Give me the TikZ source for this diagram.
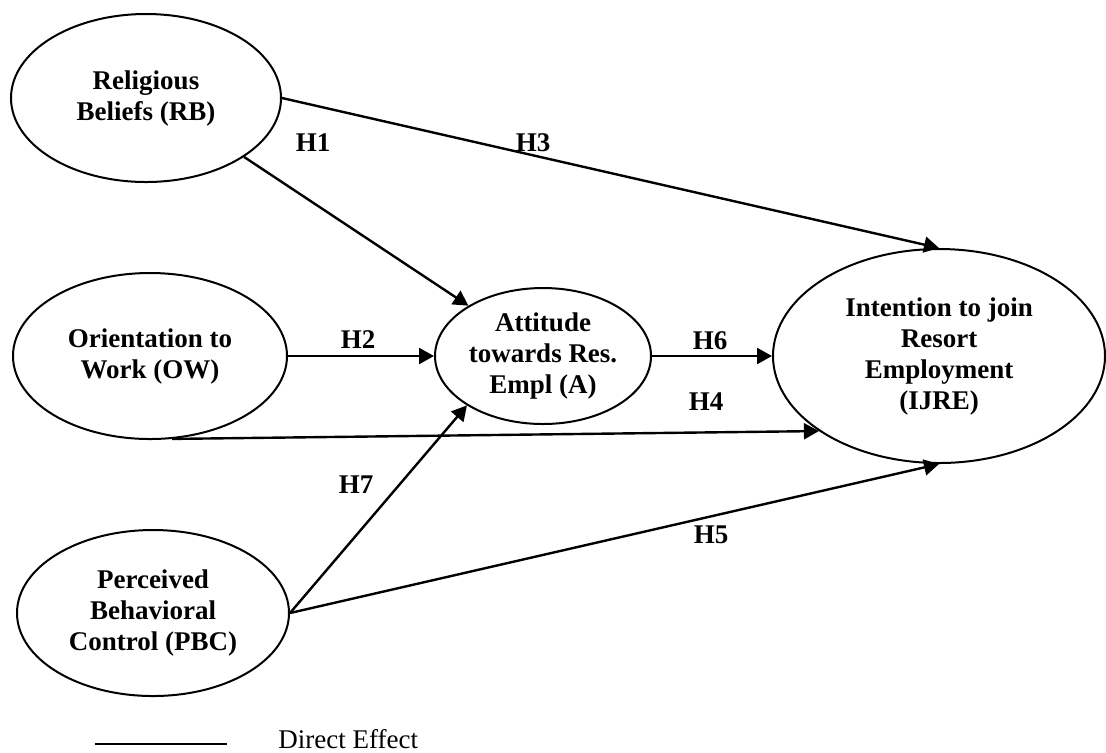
\documentclass[tikz,border=0pt]{standalone}
\usepackage{fontspec}
\setmainfont{Liberation Serif}
\usetikzlibrary{shapes.geometric,arrows.meta}
\begin{document}
\begin{tikzpicture}[x=0.5pt,y=-0.5pt,
  construct/.style={draw,ellipse,line width=1pt,inner sep=0pt,align=center,
    font=\fontsize{13.5}{15.5}\selectfont\bfseries},
  path/.style={line width=1.2pt,-{Triangle[length=7.5pt,width=8pt]}},
  hyp/.style={font=\fontsize{13.5}{15.5}\selectfont\bfseries}]
\useasboundingbox (0,0) rectangle (1106,752);

% constructs
\node[construct,minimum width=135pt,minimum height=84pt] (rb) at (146,98) {Religious\\Beliefs (RB)};
\node[construct,minimum width=137pt,minimum height=83pt] (ow) at (150,356) {Orientation to\\Work (OW)};
\node[construct,minimum width=136pt,minimum height=83pt] (pbc) at (153,613) {Perceived\\Behavioral\\Control (PBC)};
\node[construct,minimum width=108pt,minimum height=68pt] (att) at (543,356) {Attitude\\towards Res.\\Empl (A)};
\node[construct,minimum width=166pt,minimum height=107pt] (ijre) at (939,356) {Intention to join\\Resort\\Employment\\(IJRE)};

% hypothesised paths
\draw[path] (rb.east) -- (ijre.north);
\draw[path] (rb.-31.7) -- (att.146);
\draw[path] (ow.east) -- (att.west);
\draw[path] (att.east) -- (ijre.west);
\draw[path] (ow.-75) -- (ijre.212);
\draw[path] (pbc.east) -- (att.213);
\draw[path] (pbc.east) -- (ijre.south);

% path labels
\node[hyp] (h1) at (313,143) {H1};
\node[hyp] (h2) at (358,340) {H2};
\node[hyp] (h3) at (533,143) {H3};
\node[hyp] (h4) at (706,402) {H4};
\node[hyp] (h5) at (711,535) {H5};
\node[hyp] (h6) at (710,341) {H6};
\node[hyp] (h7) at (356,485) {H7};

% legend
\coordinate (l1) at (95,744);
\coordinate (l2) at (227,744);
\draw[line width=1.2pt] (l1) -- (l2);
\node[anchor=base west,inner sep=0pt,font=\fontsize{13.5}{15.5}\selectfont] (legend) at (278,748) {Direct Effect};
\end{tikzpicture}
\end{document}
